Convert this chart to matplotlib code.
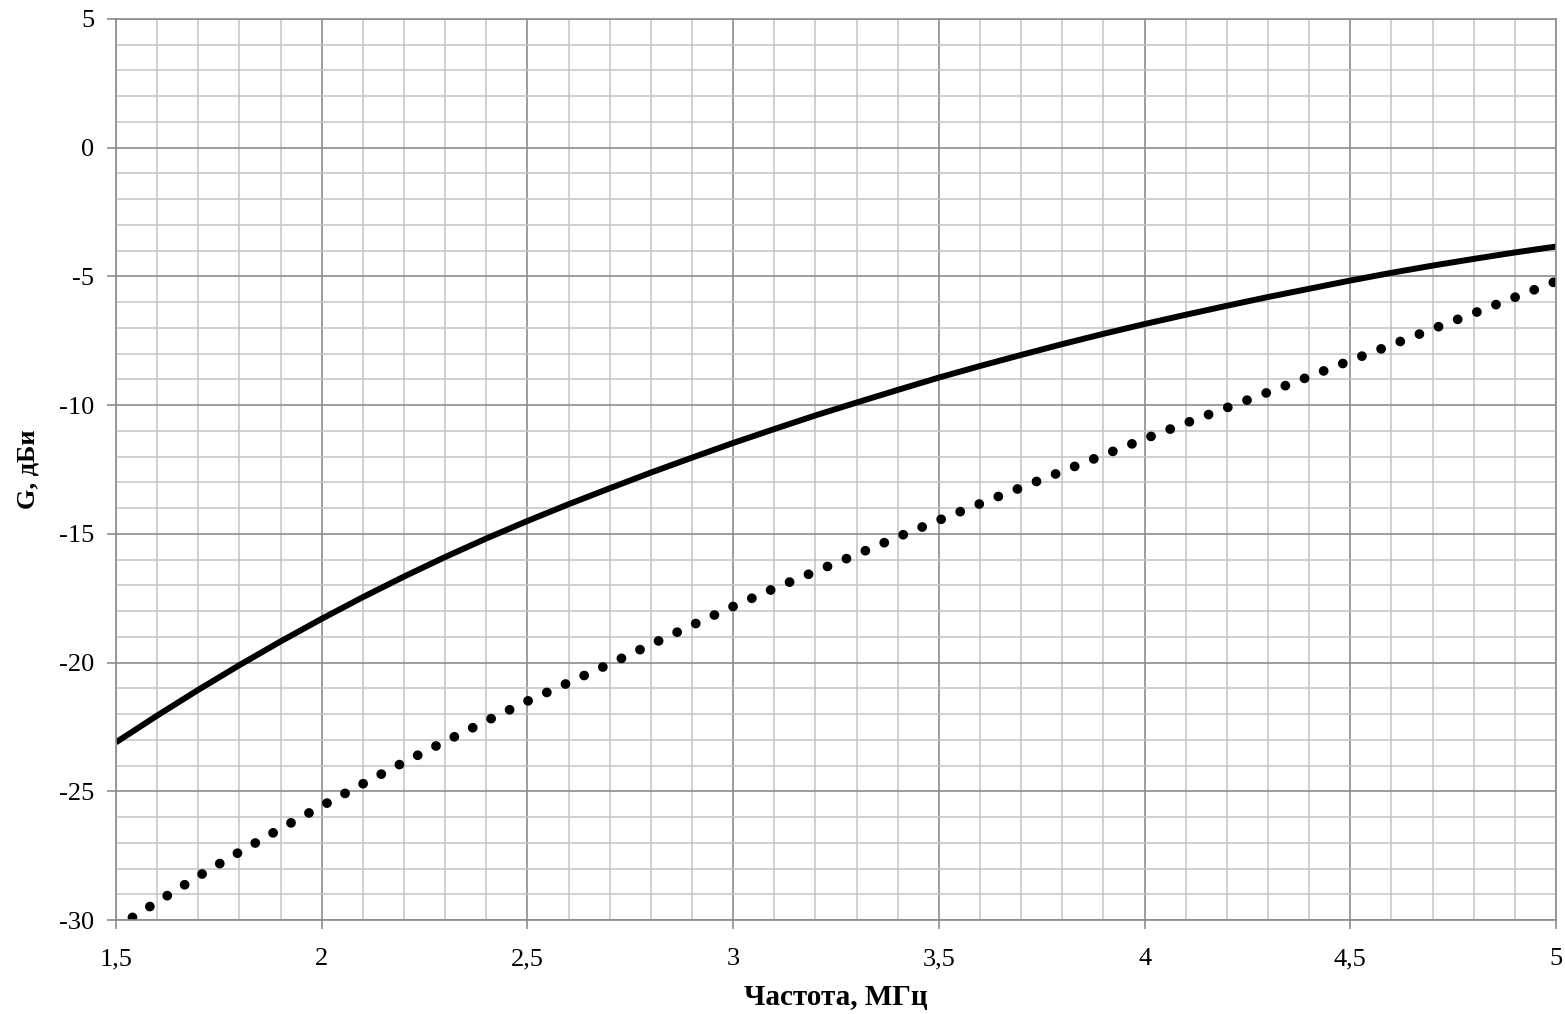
import matplotlib.pyplot as plt
from matplotlib.ticker import MultipleLocator, FuncFormatter

# Solid curve
freq_solid = [1.5, 1.6, 1.7, 1.8, 1.9, 2.0, 2.1, 2.2, 2.3, 2.4, 2.5, 2.6, 2.7, 2.8, 2.9,
              3.0, 3.1, 3.2, 3.3, 3.4, 3.5, 3.6, 3.7, 3.8, 3.9, 4.0, 4.1, 4.2, 4.3, 4.4,
              4.5, 4.6, 4.7, 4.8, 4.9, 5.0]
gain_solid = [-23.1, -22.06, -21.06, -20.1, -19.18, -18.3, -17.46, -16.66, -15.9, -15.18,
              -14.5, -13.85, -13.23, -12.62, -12.04, -11.47, -10.93, -10.4, -9.9, -9.41,
              -8.93, -8.48, -8.05, -7.63, -7.23, -6.85, -6.49, -6.14, -5.8, -5.48,
              -5.16, -4.86, -4.58, -4.32, -4.07, -3.84]

# Dotted curve
freq_dot = [1.54, 1.6, 1.7, 1.8, 1.9, 2.0, 2.1, 2.2, 2.3, 2.4, 2.5, 2.6, 2.7, 2.8, 2.9,
            3.0, 3.1, 3.2, 3.3, 3.4, 3.5, 3.6, 3.7, 3.8, 3.9, 4.0, 4.1, 4.2, 4.3, 4.4,
            4.5, 4.6, 4.7, 4.8, 4.9, 5.0]
gain_dot = [-29.9, -29.3, -28.3, -27.36, -26.45, -25.57, -24.71, -23.87, -23.06, -22.27,
            -21.5, -20.78, -20.05, -19.3, -18.55, -17.82, -17.12, -16.46, -15.8, -15.12,
            -14.47, -13.83, -13.2, -12.57, -11.94, -11.31, -10.7, -10.1, -9.5, -8.89,
            -8.27, -7.66, -7.04, -6.43, -5.81, -5.19]

x_label = 'Частота, МГц'
y_label = 'G, дБи'

plt.rcParams['font.family'] = ['Liberation Serif', 'DejaVu Serif']

fig = plt.figure(figsize=(15.65, 10.14), dpi=100)
ax = fig.add_axes([0.0741, 0.0927, 0.9202, 0.8886])

ax.plot(freq_solid, gain_solid, color='black', linewidth=4.3, solid_capstyle='butt',
        solid_joinstyle='round')
ax.plot(freq_dot, gain_dot, color='black', linewidth=7,
        linestyle=(0, (0.01, 2.1)), dash_capstyle='round')

ax.set_xlim(1.5, 5)
ax.set_ylim(-30, 5)
ax.xaxis.set_major_locator(MultipleLocator(0.5))
ax.xaxis.set_minor_locator(MultipleLocator(0.1))
ax.yaxis.set_major_locator(MultipleLocator(5))
ax.yaxis.set_minor_locator(MultipleLocator(1))

comma = FuncFormatter(lambda v, p: ('%g' % v).replace('.', ','))
ax.xaxis.set_major_formatter(comma)
ax.yaxis.set_major_formatter(comma)

ax.grid(True, which='major', color='#8c8c8c', linewidth=1.2)
ax.grid(True, which='minor', color='#c4c4c4', linewidth=1.1)
ax.set_axisbelow(True)

for s in ax.spines.values():
    s.set_color('#8c8c8c')
    s.set_linewidth(1.2)

ax.tick_params(which='major', direction='out', length=6.5, width=1.2, color='#8c8c8c',
               labelsize=19)
ax.tick_params(axis='x', which='major', pad=14)
ax.tick_params(axis='y', which='major', pad=9)
ax.tick_params(which='minor', length=0)

ax.set_xlabel(x_label, fontsize=21, fontweight='bold', labelpad=10)
ax.set_ylabel(y_label, fontsize=19, fontweight='bold', labelpad=14)

plt.savefig('out.png', dpi=100)
plt.close()
